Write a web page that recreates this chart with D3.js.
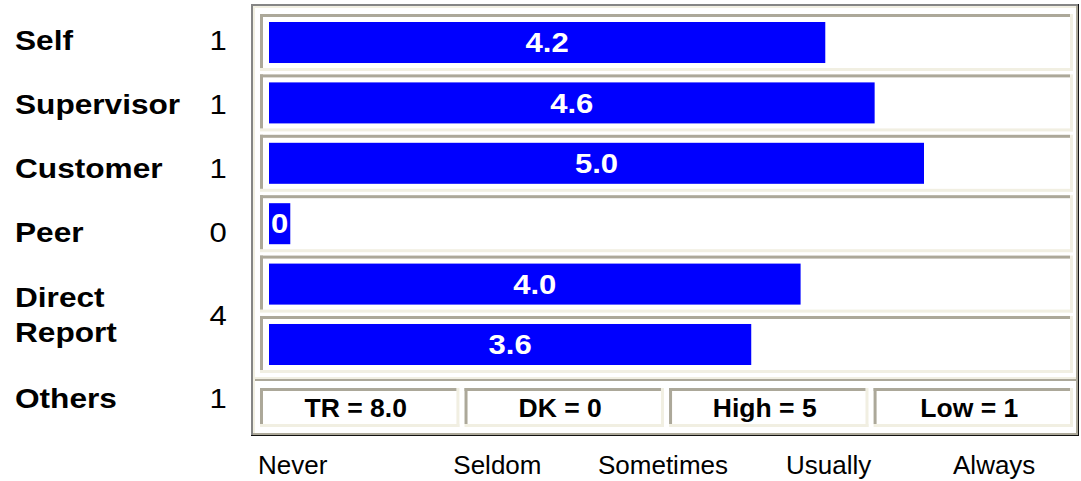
<!DOCTYPE html>
<html>
<head>
<meta charset="utf-8">
<script src="https://cdn.jsdelivr.net/npm/d3@7"></script>
<style>
  html, body { margin: 0; padding: 0; background: #fff; }
  svg { display: block; font-family: "Liberation Sans", Arial, sans-serif; }
</style>
</head>
<body>
<script>
// data
const raterGroups = ['Self', 'Supervisor', 'Customer', 'Peer', 'Direct Report', 'Others'];
const raterCounts = [1, 1, 1, 0, 4, 1];
const barValues = [4.2, 4.6, 5.0, 0, 4.0, 3.6];
const barLabels = ['4.2', '4.6', '5.0', '0', '4.0', '3.6'];
const statNames = ['TR', 'DK', 'High', 'Low'];
const statValues = ['8.0', '0', '5', '1'];
const scaleLabels = ['Never', 'Seldom', 'Sometimes', 'Usually', 'Always'];

// sizes
const width = 1081, height = 481;
const frame = { x0: 251, y0: 4, x1: 1079, y1: 436 };
const gray = '#aca899', cream = '#f1efe2', dark = '#858585';
const stretch = 1.15; // the bold text in the picture is drawn a bit wide

const svg = d3.select('body').append('svg')
    .attr('width', width)
    .attr('height', height);

// 3d table borders: top/left colour and bottom/right colour
const bevel = (x, y, w, h, tTL, tBR, cTL, cBR) => {
    const g = svg.append('g');
    g.append('rect').attr('x', x).attr('y', y + h - tBR).attr('width', w).attr('height', tBR).attr('fill', cBR);
    g.append('rect').attr('x', x + w - tBR).attr('y', y).attr('width', tBR).attr('height', h).attr('fill', cBR);
    g.append('rect').attr('x', x).attr('y', y).attr('width', w - tBR).attr('height', tTL).attr('fill', cTL);
    g.append('rect').attr('x', x).attr('y', y).attr('width', tTL).attr('height', h - tBR).attr('fill', cTL);
    return g;
};

// outer frame
bevel(frame.x0, frame.y0, frame.x1 - frame.x0, frame.y1 - frame.y0, 2, 1, dark, '#111');
bevel(frame.x0 + 2, frame.y0 + 2, frame.x1 - frame.x0 - 3, frame.y1 - frame.y0 - 3, 2, 2, cream, gray);

// divider between bars and the stats row
svg.append('rect').attr('x', frame.x0 + 4).attr('y', 377).attr('width', frame.x1 - frame.x0 - 7).attr('height', 2).attr('fill', cream);
svg.append('rect').attr('x', frame.x0 + 4).attr('y', 379).attr('width', frame.x1 - frame.x0 - 7).attr('height', 2).attr('fill', gray);

// scales
const cellX0 = 260, cellX1 = 1073, barX0 = 269;
const yScale = d3.scaleBand()
    .domain(raterGroups)
    .range([14, 373])
    .paddingInner(0.056);
const wScale = d3.scaleLinear()
    .domain([0, 5])
    .range([38, 655]);

// bar cells
raterGroups.forEach(g => {
    bevel(cellX0, yScale(g), cellX1 - cellX0, yScale.bandwidth(), 3, 3, gray, cream);
});

// bars
const bars = svg.selectAll('g.bar')
    .data(raterGroups.map((g, i) => ({ group: g, value: barValues[i], label: barLabels[i], count: raterCounts[i] })))
    .enter()
    .append('g')
    .attr('class', 'bar');

bars.each(function (d) {
    const g = d3.select(this);
    const top = yScale(d.group) + 8;
    const h = yScale.bandwidth() - 16;
    const rect = g.append('rect')
        .attr('x', barX0)
        .attr('y', top)
        .attr('height', h)
        .attr('fill', '#0000ff');
    const text = g.append('text')
        .attr('text-anchor', 'middle')
        .attr('dy', '0.36em')
        .attr('fill', '#fff')
        .style('font-weight', 'bold')
        .style('font-size', '27px')
        .text(d.label);
    // no raters: the bar only wraps its label
    const w = d.count === 0
        ? text.node().getComputedTextLength() * stretch + 4
        : wScale(d.value);
    rect.attr('width', w);
    text.attr('transform', `translate(${barX0 + w / 2},${top + h / 2}) scale(${stretch},1)`);
});

// left labels and counts
let rowTop = 8;
raterGroups.forEach((g, i) => {
    const lines = g.split(' ');
    const rowH = lines.length > 1 ? 102 : 64;
    const cy = rowTop + rowH / 2;
    lines.forEach((line, j) => {
        svg.append('text')
            .attr('transform', `translate(15,${cy + (j - (lines.length - 1) / 2) * 35}) scale(${stretch},1)`)
            .attr('dy', '0.36em')
            .style('font-weight', 'bold')
            .style('font-size', '27.5px')
            .text(line);
    });
    svg.append('text')
        .attr('transform', `translate(218,${cy}) scale(${stretch},1)`)
        .attr('text-anchor', 'middle')
        .attr('dy', '0.36em')
        .style('font-size', '27px')
        .text(raterCounts[i]);
    rowTop += rowH;
});

// stats row
const sScale = d3.scaleBand()
    .domain(statNames)
    .range([cellX0, cellX1])
    .paddingInner(0.025);
statNames.forEach((s, i) => {
    bevel(sScale(s), 388, sScale.bandwidth(), 39, 3, 3, gray, cream);
    svg.append('text')
        .attr('transform', `translate(${sScale(s) + sScale.bandwidth() / 2 - 4},408) scale(1.02,1)`)
        .attr('text-anchor', 'middle')
        .attr('dy', '0.36em')
        .style('font-weight', 'bold')
        .style('font-size', '26px')
        .text(`${s} = ${statValues[i]}`);
});

// rating scale under the chart
const xScale = d3.scaleBand()
    .domain(scaleLabels)
    .range([frame.x0, frame.x1]);
svg.selectAll('text.scale')
    .data(scaleLabels)
    .enter()
    .append('text')
    .attr('class', 'scale')
    .attr('x', (d, i) => i === 0 ? frame.x0 + 7 : xScale(d) + xScale.bandwidth() / 2 - 2)
    .attr('y', 474)
    .attr('text-anchor', (d, i) => i === 0 ? 'start' : 'middle')
    .style('font-size', '26px')
    .text(d => d);
</script>
</body>
</html>
